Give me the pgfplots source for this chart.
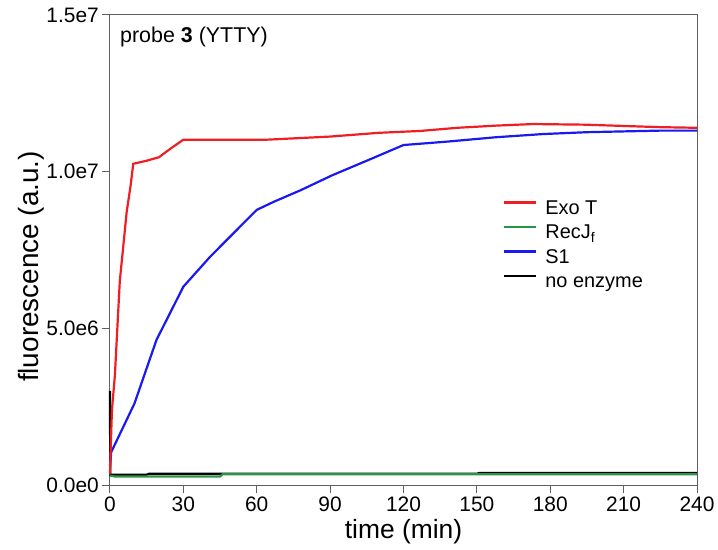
\documentclass[border=0pt]{standalone}
\usepackage{fontspec}
\setmainfont{Liberation Sans}
\usepackage{pgfplots}
\pgfplotsset{compat=1.18}

\definecolor{exoT}{RGB}{240,30,35}
\definecolor{recJ}{RGB}{40,150,70}
\definecolor{sOne}{RGB}{25,25,240}
\definecolor{axgray}{RGB}{95,95,95}

\begin{document}
\begin{tikzpicture}
\useasboundingbox (-110bp,-65bp) rectangle (608bp,485bp);
\begin{axis}[
    scale only axis,
    width=587bp, height=470bp,
    xmin=0, xmax=240,
    ymin=0, ymax=1.5e7,
    xtick={0,30,...,240},
    ytick={0,5e6,1e7,1.5e7},
    yticklabels={0.0e0,5.0e6,1.0e7,1.5e7},
    scaled y ticks=false,
    /pgf/number format/assume math mode=true,
    tick align=outside,
    xtick pos=bottom, ytick pos=left,
    major tick length=8bp,
    axis line style={axgray, line width=1bp},
    tick style={axgray, line width=1bp},
    tick label style={font=\fontsize{21}{21}\selectfont},
    yticklabel style={inner xsep=3bp},
    xlabel={time (min)},
    ylabel={fluorescence (a.u.)},
    xlabel style={font=\fontsize{26.5}{26.5}\selectfont, at={(axis description cs:0.5,-0.1)}, anchor=center},
    ylabel style={font=\fontsize{28}{28}\selectfont, at={(axis description cs:-0.134,0.465)}, anchor=center},
    legend cell align=left,
    legend style={
        draw=none, fill=none,
        at={(axis description cs:0.6695,0.608)}, anchor=north west,
        font=\fontsize{20}{20}\selectfont,
        inner sep=0pt, row sep=4.5bp, column sep=8bp,
        nodes={inner sep=0pt, text height=15bp, text depth=5bp},
    },
    legend image code/.code={\draw[#1] (0bp,7bp) -- (32bp,7bp);},
    every axis plot/.append style={line width=2.2bp},
    clip=false,
]
    % legend, in the order of the original
    \addlegendimage{exoT, line width=2.2bp}
    \addlegendentry{Exo T}
    \addlegendimage{recJ, line width=2.2bp}
    \addlegendentry{RecJ\textsubscript{f}}
    \addlegendimage{sOne, line width=2.2bp}
    \addlegendentry{S1}
    \addlegendimage{black, line width=2.2bp}
    \addlegendentry{no enzyme}

    %% no enzyme
    \addplot[black, forget plot] coordinates {
        (0,3.0e6)(0,2.1e6)(0.15,0.33e6)(15,0.33e6)(16,0.36e6)(150,0.36e6)(151,0.38e6)(240,0.38e6)};
    %% RecJf
    \addplot[recJ, forget plot] coordinates {
        (0,0.3e6)(2,0.27e6)(45,0.27e6)(46,0.34e6)(240,0.34e6)};
    %% S1
    \addplot[sOne, forget plot] coordinates {
        (0,0.6e6)(0.5,1.05e6)(10,2.6e6)(19,4.63e6)(30,6.33e6)(41,7.29e6)
        (54.5,8.35e6)(60,8.78e6)(67,9.04e6)(78,9.41e6)(91,9.89e6)(105,10.35e6)
        (120,10.85e6)(138,10.96e6)(158,11.1e6)(177,11.2e6)
        (195,11.26e6)(225,11.31e6)(240,11.31e6)};
    %% Exo T
    \addplot[exoT, forget plot] coordinates {
        (0,0.35e6)(0.3,1.2e6)(0.8,2.4e6)(2,3.5e6)(4,6.5e6)(6.8,8.7e6)
        (8.5,9.6e6)(9.5,10.25e6)(15,10.35e6)(20,10.46e6)(25,10.75e6)
        (30,11.02e6)(64,11.02e6)(90,11.12e6)(110,11.24e6)(127,11.3e6)
        (142,11.4e6)(158,11.47e6)(173,11.52e6)(194,11.5e6)(225,11.42e6)
        (240,11.4e6)};

    \node[font=\fontsize{21.5}{21.5}\selectfont, anchor=west, inner sep=0pt]
        at (axis description cs:0.017,0.953) {probe \textbf{3} (YTTY)};
\end{axis}
\end{tikzpicture}
\end{document}
